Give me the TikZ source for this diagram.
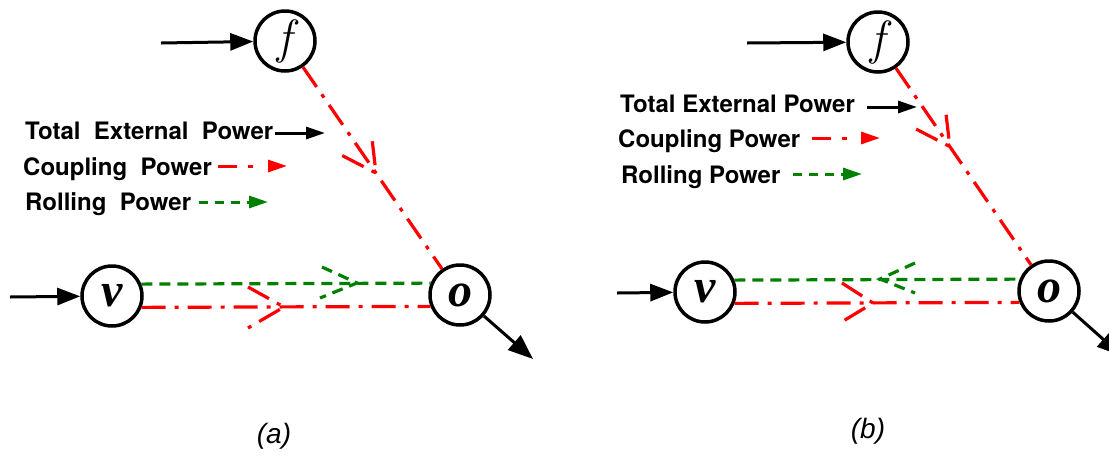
\documentclass[tikz,border=0pt]{standalone}
\usepackage{fontspec}
\usetikzlibrary{arrows.meta,calc}
\newfontfamily\lgdfont{TeX Gyre Heros}
\newfontfamily\circfont{Liberation Serif}
\newfontfamily\fitfont{Latin Modern Roman}
\newfontfamily\capfont{Liberation Sans}
\definecolor{gr}{RGB}{0,128,0}
\definecolor{rd}{RGB}{255,0,0}
\tikzset{
  nd/.style={circle,draw,line width=3.5pt,minimum size=60pt,inner sep=0pt,
    font=\circfont\bfseries\itshape\fontsize{48}{48}\selectfont},
  fnd/.style={nd,font=\fitfont\itshape\fontsize{48}{48}\selectfont},
  ext/.style={line width=3pt,-{Triangle[length=23pt,width=17pt]}},
  cpl/.style={rd,line width=3.2pt,dash pattern=on 24pt off 9pt on 4pt off 9pt},
  rol/.style={gr,line width=3.2pt,dash pattern=on 11pt off 7pt},
  lgtip/.style={-{Triangle[length=19pt,width=12pt]}},
  lgcpl/.style={rd,line width=3pt,dash pattern=on 19pt off 11pt on 5pt off 30pt},
  lgrol/.style={gr,line width=3pt,dash pattern=on 9pt off 7pt},
  lg/.style={anchor=base west,inner sep=0pt,font=\lgdfont\bfseries\fontsize{24}{24}\selectfont},
  captxt/.style={font=\capfont\itshape\fontsize{28}{28}\selectfont}
}
\begin{document}
\begin{tikzpicture}[x=1pt,y=-1pt]
\useasboundingbox (0,0) rectangle (1109,456);
% ---------------- panel (a)
\node[fnd] (fa) at (285,41) {f};
\node[nd] (va) at (112,296) {v};
\node[nd] (oa) at (460,295) {o};
\coordinate (ifa) at (161,43);
\coordinate (iva) at (10,297);
\coordinate (outa) at (533,359);
\draw[ext] (ifa) -- (fa);
\draw[ext] (iva) -- (va);
\draw[ext,-{Triangle[length=25pt,width=19pt]}] (oa) -- (outa);
\draw[cpl] (fa) -- (oa);
\draw[rol] (va.22) -- (oa.158);
\draw[cpl] (va.-21) -- (oa.201);
% open arrow marks
\coordinate (ta) at ($(fa)!0.52!(oa)$);
\draw[cpl] ($(ta)+(-33.7,-17.5)$) -- (ta) -- ($(ta)+(-4.4,-37.7)$);
\coordinate (ga) at (357,283);
\draw[rol] ($(ga)+(-35,-16)$) -- (ga) -- ($(ga)+(-37,15)$);
\coordinate (ra) at (284,307);
\draw[cpl] ($(ra)+(-36,-20)$) -- (ra) -- ($(ra)+(-36,21)$);
% legend
\node[lg] (la1) at (25,139) {Total\ \ External\ \ Power};
\node[lg] (la2) at (23,175) {Coupling\ \ Power};
\node[lg] (la3) at (25,210) {Rolling\ \ Power};
\coordinate (a1s) at (275,133); \coordinate (a1e) at (325,133);
\coordinate (a2s) at (218,166); \coordinate (a2e) at (287,166);
\coordinate (a3s) at (199,202); \coordinate (a3e) at (268,202);
\draw[line width=3pt,lgtip] (a1s) -- (a1e);
\draw[lgcpl,lgtip] (a2s) -- (a2e);
\draw[lgrol,lgtip] (a3s) -- (a3e);
\node[captxt] (capa) at (274,436) {(a)};
% ---------------- panel (b)
\node[fnd] (fb) at (878,42) {f};
\node[nd] (vb) at (705,292) {v};
\node[nd] (ob) at (1049,291) {o};
\coordinate (ifb) at (747,43);
\coordinate (ivb) at (617,293);
\coordinate (outb) at (1122,356);
\draw[ext] (ifb) -- (fb);
\draw[ext] (ivb) -- (vb);
\draw[ext,-{Triangle[length=25pt,width=19pt]}] (ob) -- (outb);
\draw[cpl] (fb) -- (ob);
\draw[rol] (vb.22) -- (ob.158);
\draw[cpl] (vb.-21) -- (ob.201);
\coordinate (tb) at ($(fb)!0.42!(ob)$);
\draw[cpl] ($(tb)+(-33.7,-17.5)$) -- (tb) -- ($(tb)+(-4.4,-37.7)$);
\coordinate (gb) at (880,279);
\draw[rol] ($(gb)+(35,-16)$) -- (gb) -- ($(gb)+(35,14)$);
\coordinate (rb) at (873,303);
\draw[cpl] ($(rb)+(-31,-20)$) -- (rb) -- ($(rb)+(-33,20)$);
\node[lg] (lb1) at (620,112) {Total External Power};
\node[lg] (lb2) at (618,147) {Coupling Power};
\node[lg] (lb3) at (621,183) {Rolling Power};
\coordinate (b1s) at (867,107); \coordinate (b1e) at (917,107);
\coordinate (b2s) at (812,138); \coordinate (b2e) at (880,138);
\coordinate (b3s) at (793,174); \coordinate (b3e) at (862,174);
\draw[line width=3pt,lgtip] (b1s) -- (b1e);
\draw[lgcpl,lgtip] (b2s) -- (b2e);
\draw[lgrol,lgtip] (b3s) -- (b3e);
\node[captxt] (capb) at (868,431) {(b)};
\end{tikzpicture}
\end{document}
